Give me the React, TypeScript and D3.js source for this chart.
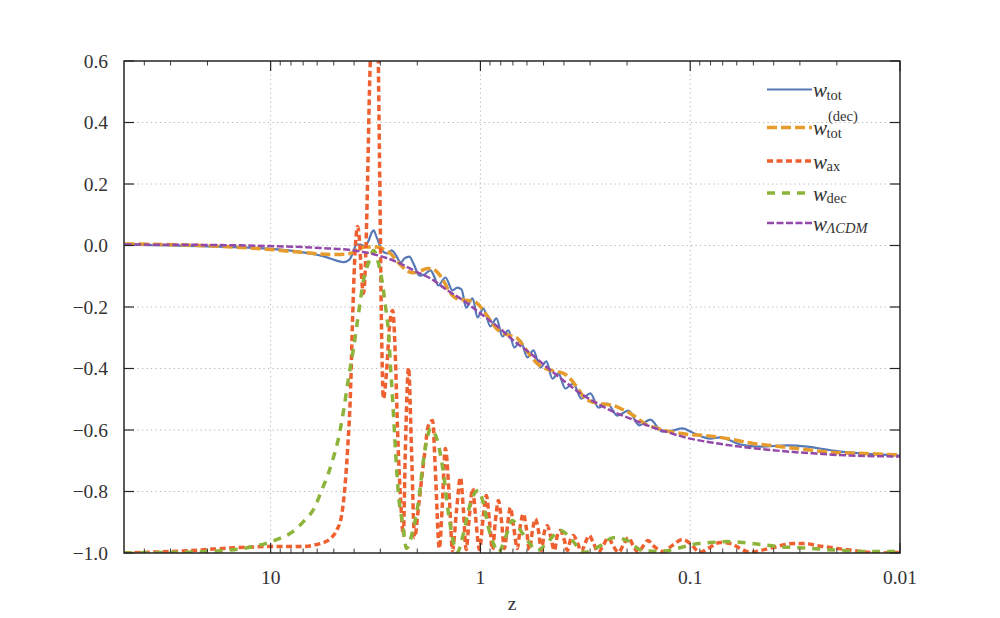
import React from "react";
import * as d3 from "d3";

// ---------- data ----------
const totZ = [49.6, 21.5, 10, 7.2, 5.53, 4.85, 4.49, 4.21, 4.02, 3.9, 3.73, 3.57, 3.41, 3.3, 3.23, 3.13, 2.99, 2.87, 2.77, 2.65, 2.54, 2.4, 2.3, 2.18, 2.085, 1.95, 1.85, 1.73, 1.66, 1.59, 1.468, 1.36, 1.29, 1.23, 1.17, 1.09, 1.033, 0.968, 0.896, 0.839, 0.785, 0.736, 0.689, 0.645, 0.597, 0.559, 0.518, 0.485, 0.454, 0.425, 0.394, 0.361, 0.33, 0.299, 0.274, 0.248, 0.223, 0.197, 0.175, 0.155, 0.136, 0.122, 0.109, 0.0978, 0.0803, 0.072, 0.0578, 0.0464, 0.0345, 0.0277, 0.0209, 0.0155, 0.01];
const totW = [0.003, -0.002, -0.011, -0.021, -0.036, -0.049, -0.054, -0.046, -0.016, 0.003, 0.003, -0.003, 0.016, 0.042, 0.049, 0.029, -0.006, -0.023, -0.026, -0.016, -0.029, -0.055, -0.042, -0.036, -0.059, -0.098, -0.094, -0.081, -0.101, -0.13, -0.104, -0.146, -0.137, -0.143, -0.202, -0.172, -0.234, -0.205, -0.263, -0.237, -0.296, -0.276, -0.332, -0.309, -0.364, -0.341, -0.397, -0.377, -0.433, -0.416, -0.465, -0.449, -0.498, -0.481, -0.527, -0.514, -0.553, -0.537, -0.585, -0.566, -0.605, -0.602, -0.595, -0.608, -0.628, -0.624, -0.647, -0.654, -0.65, -0.654, -0.667, -0.676, -0.683];

const totDecZ = [49.6, 21.5, 10, 7.2, 5.12, 4.39, 4.12, 3.81, 3.53, 3.09, 2.83, 2.68, 2.51, 2.33, 2.2, 2.085, 1.93, 1.79, 1.69, 1.6, 1.5, 1.42, 1.34, 1.245, 1.14, 1.068, 1.022, 0.968, 0.896, 0.839, 0.803, 0.752, 0.704, 0.666, 0.631, 0.578, 0.535, 0.49, 0.454, 0.43, 0.402, 0.373, 0.341, 0.323, 0.299, 0.268, 0.248, 0.233, 0.215, 0.193, 0.173, 0.16, 0.147, 0.1315, 0.118, 0.1, 0.0848, 0.072, 0.0597, 0.0501, 0.0416, 0.0345, 0.0268, 0.0209, 0.0155, 0.01];
const totDecW = [0.005, 0.0, -0.013, -0.022, -0.029, -0.028, -0.025, -0.01, -0.005, -0.005, -0.016, -0.026, -0.049, -0.072, -0.085, -0.089, -0.083, -0.075, -0.076, -0.088, -0.114, -0.146, -0.166, -0.176, -0.179, -0.182, -0.192, -0.211, -0.244, -0.27, -0.28, -0.289, -0.296, -0.302, -0.322, -0.358, -0.384, -0.4, -0.407, -0.41, -0.416, -0.433, -0.468, -0.491, -0.507, -0.514, -0.517, -0.52, -0.53, -0.546, -0.569, -0.585, -0.592, -0.602, -0.608, -0.615, -0.618, -0.624, -0.634, -0.644, -0.65, -0.657, -0.665, -0.673, -0.676, -0.681];

const axZ = [49.6, 24.0, 13.9, 10, 7.2, 5.78, 5.18, 4.85, 4.59, 4.44, 4.3, 4.16, 4.07, 3.98, 3.85, 3.77, 3.69, 3.61, 3.53, 3.45, 3.38, 3.3, 3.2, 3.09, 3.03, 2.96, 2.9, 2.8, 2.71, 2.62, 2.54, 2.48, 2.4, 2.33, 2.28, 2.2, 2.13, 2.06, 1.97, 1.85, 1.77, 1.69, 1.64, 1.57, 1.52, 1.47, 1.4, 1.36, 1.3, 1.245, 1.205, 1.17, 1.128, 1.09, 1.056, 1.011, 0.968, 0.937, 0.906, 0.876, 0.848, 0.821, 0.794, 0.769, 0.743, 0.72, 0.696, 0.666, 0.645, 0.624, 0.604, 0.584, 0.565, 0.547, 0.529, 0.512, 0.496, 0.48, 0.464, 0.444, 0.43, 0.416, 0.398, 0.385, 0.373, 0.361, 0.345, 0.33, 0.316, 0.303, 0.29, 0.274, 0.26, 0.246, 0.233, 0.22, 0.209, 0.197, 0.187, 0.177, 0.167, 0.159, 0.15, 0.134, 0.122, 0.109, 0.1, 0.0896, 0.0821, 0.072, 0.0645, 0.0578, 0.0518, 0.0464, 0.0402, 0.0323, 0.0283, 0.0248, 0.02, 0.0167, 0.0139, 0.0122, 0.01];
const axW = [-1.0, -0.992, -0.982, -0.979, -0.979, -0.969, -0.953, -0.927, -0.878, -0.797, -0.667, -0.472, -0.244, -0.055, 0.062, 0.016, -0.098, -0.156, -0.055, 0.211, 0.504, 0.732, 0.95, 0.732, 0.309, -0.276, -0.498, -0.407, -0.26, -0.211, -0.374, -0.611, -0.829, -0.943, -0.667, -0.397, -0.667, -0.95, -0.846, -0.683, -0.585, -0.569, -0.732, -0.985, -0.846, -0.66, -0.846, -0.992, -0.862, -0.754, -0.862, -0.989, -0.878, -0.79, -0.878, -0.989, -0.878, -0.813, -0.894, -0.989, -0.894, -0.829, -0.894, -0.985, -0.911, -0.852, -0.911, -0.985, -0.911, -0.872, -0.92, -0.989, -0.927, -0.889, -0.927, -0.992, -0.933, -0.911, -0.943, -0.992, -0.943, -0.927, -0.959, -0.992, -0.959, -0.943, -0.966, -0.995, -0.966, -0.943, -0.966, -0.998, -0.976, -0.95, -0.976, -0.998, -0.976, -0.95, -0.976, -0.998, -0.976, -0.959, -0.976, -0.995, -0.976, -0.956, -0.969, -0.998, -0.985, -0.966, -0.969, -0.985, -0.998, -0.992, -0.982, -0.969, -0.969, -0.976, -0.985, -0.992, -0.998, -1.0, -0.998];

const decZ = [49.6, 19.9, 11.5, 9.57, 7.94, 6.89, 6.17, 5.72, 5.35, 5.07, 4.8, 4.49, 4.25, 4.02, 3.81, 3.61, 3.41, 3.23, 3.06, 2.93, 2.83, 2.74, 2.68, 2.62, 2.54, 2.46, 2.35, 2.25, 2.11, 1.97, 1.87, 1.79, 1.73, 1.66, 1.59, 1.5, 1.42, 1.34, 1.29, 1.205, 1.14, 1.08, 1.022, 0.968, 0.916, 0.867, 0.821, 0.76, 0.704, 0.659, 0.597, 0.535, 0.48, 0.416, 0.365, 0.323, 0.268, 0.233, 0.2, 0.169, 0.139, 0.115, 0.0968, 0.0803, 0.0666, 0.0559, 0.0464, 0.0385, 0.0323, 0.0268, 0.0223, 0.0187, 0.0155, 0.0129, 0.01];
const decW = [-1.0, -0.995, -0.976, -0.959, -0.933, -0.894, -0.852, -0.797, -0.748, -0.699, -0.641, -0.537, -0.429, -0.332, -0.221, -0.114, -0.055, -0.016, -0.059, -0.124, -0.202, -0.286, -0.397, -0.504, -0.667, -0.807, -0.904, -0.985, -0.933, -0.829, -0.699, -0.624, -0.595, -0.608, -0.644, -0.741, -0.872, -0.969, -0.998, -0.937, -0.862, -0.813, -0.797, -0.839, -0.917, -0.969, -0.998, -0.95, -0.894, -0.917, -0.959, -0.992, -0.966, -0.927, -0.959, -0.998, -0.976, -0.95, -0.959, -0.992, -0.995, -0.985, -0.972, -0.966, -0.963, -0.966, -0.972, -0.979, -0.982, -0.985, -0.989, -0.992, -0.995, -0.995, -0.995];

const lcdmZ = [49.6, 21.5, 10, 5.78, 4.02, 3.2, 2.4, 2.085, 1.73, 1.435, 1.205, 1.0, 0.83, 0.696, 0.578, 0.48, 0.402, 0.334, 0.277, 0.233, 0.193, 0.16, 0.127, 0.1, 0.0736, 0.0535, 0.0373, 0.026, 0.0173, 0.01];
const lcdmW = [0.003, 0.002, -0.002, -0.008, -0.016, -0.029, -0.059, -0.081, -0.107, -0.146, -0.179, -0.221, -0.263, -0.309, -0.351, -0.397, -0.439, -0.481, -0.514, -0.54, -0.563, -0.585, -0.608, -0.628, -0.644, -0.657, -0.668, -0.676, -0.683, -0.686];

const xTickValues = [10, 1, 0.1, 0.01];
const xTickLabels = ["10", "1", "0.1", "0.01"];
const yTickValues = [-1.0, -0.8, -0.6, -0.4, -0.2, 0.0, 0.2, 0.4, 0.6];
const yTickLabels = ["\u22121.0", "\u22120.8", "\u22120.6", "\u22120.4", "\u22120.2", "0.0", "0.2", "0.4", "0.6"];
const xLabel = "z";

const FONT = "Liberation Serif";

const series = [
  { key: "tot", zs: totZ, ws: totW, color: "#5679b8", width: 2.2, dash: "none", sub: "tot", sup: "" },
  { key: "totdec", zs: totDecZ, ws: totDecW, color: "#e69c2c", width: 3.5, dash: "10,4", sub: "tot", sup: "(dec)" },
  { key: "ax", zs: axZ, ws: axW, color: "#ef6031", width: 3.5, dash: "6,3.5", sub: "ax", sup: "" },
  { key: "dec", zs: decZ, ws: decW, color: "#8db43a", width: 3.5, dash: "8,7", sub: "dec", sup: "" },
  { key: "lcdm", zs: lcdmZ, ws: lcdmW, color: "#9349a8", width: 2.5, dash: "7,2.5", sub: "\u039BCDM", sup: "" },
];

const legendY = [89.5, 127.5, 161, 193, 223];

export default function App() {
  const L = 124, R = 900, T = 61, B = 553;
  const x = d3.scaleLog().domain([50, 0.01]).range([L, R]);
  const y = d3.scaleLinear().domain([-1, 0.6]).range([B, T]);

  const pathFor = (zs: number[], ws: number[]) => {
    const pts: [number, number][] = zs.map((z, i) => [z, ws[i]]).filter((p) => p[1] !== undefined) as [number, number][];
    return d3
      .line<[number, number]>()
      .x((d) => x(d[0]))
      .y((d) => y(d[1]))
      .curve(d3.curveMonotoneX)(pts) || "";
  };

  const minor: number[] = [];
  [0.01, 0.1, 1, 10].forEach((dec) => {
    for (let m = 2; m <= 9; m++) {
      const v = m * dec;
      if (v < 49.9) minor.push(v);
    }
  });

  const gridColor = "#b5b5b5";
  const axisColor = "#262626";

  return (
    <svg width={1000} height={618} style={{ position: "absolute", left: 0, top: 0, background: "#fff" }}>
      <defs>
        <clipPath id="plotclip">
          <rect x={L} y={T} width={R - L} height={B - T} />
        </clipPath>
      </defs>
      <rect x={0} y={0} width={1000} height={618} fill="#fff" />
      <g stroke={gridColor} strokeWidth={1} strokeDasharray="1.2,3.3">
        {yTickValues.filter((v) => v > -1 && v < 0.6).map((v) => (
          <line key={"gy" + v} x1={L} x2={R} y1={y(v)} y2={y(v)} />
        ))}
        {xTickValues.filter((v) => v > 0.01).map((v) => (
          <line key={"gx" + v} x1={x(v)} x2={x(v)} y1={T} y2={B} />
        ))}
      </g>
      <g clipPath="url(#plotclip)" fill="none">
        {series.map((s) => (
          <path
            key={s.key}
            d={pathFor(s.zs, s.ws)}
            stroke={s.color}
            strokeWidth={s.width}
            strokeDasharray={s.dash}
            strokeLinejoin="round"
          />
        ))}
      </g>
      <g stroke={axisColor} strokeWidth={1.2}>
        {xTickValues.map((v) => (
          <g key={"xt" + v}>
            <line x1={x(v)} x2={x(v)} y1={B} y2={B - 10} />
            <line x1={x(v)} x2={x(v)} y1={T} y2={T + 10} />
          </g>
        ))}
        {minor.map((v) => (
          <g key={"mt" + v}>
            <line x1={x(v)} x2={x(v)} y1={B} y2={B - 4.5} strokeWidth={0.9} />
            <line x1={x(v)} x2={x(v)} y1={T} y2={T + 4.5} strokeWidth={0.9} />
          </g>
        ))}
        {yTickValues.map((v) => (
          <g key={"yt" + v}>
            <line x1={L} x2={L + 10} y1={y(v)} y2={y(v)} />
            <line x1={R} x2={R - 10} y1={y(v)} y2={y(v)} />
          </g>
        ))}
      </g>
      <rect x={L} y={T} width={R - L} height={B - T} fill="none" stroke={axisColor} strokeWidth={1.5} />
      <g fontFamily={FONT} fontSize={19.5} fill="#333">
        {yTickValues.map((v, i) => (
          <text key={"yl" + v} x={108} y={y(v) + 6.5} textAnchor="end">
            {yTickLabels[i]}
          </text>
        ))}
        {xTickValues.map((v, i) => (
          <text key={"xl" + v} x={x(v)} y={584} textAnchor="middle">
            {xTickLabels[i]}
          </text>
        ))}
        <text x={(L + R) / 2} y={610} textAnchor="middle">
          {xLabel}
        </text>
      </g>
      <g fontFamily={FONT} fill="#333">
        {series.map((s, i) => {
          const ly = legendY[i];
          return (
            <g key={"lg" + s.key}>
              <line x1={767} x2={812} y1={ly} y2={ly} stroke={s.color} strokeWidth={s.width} strokeDasharray={s.dash} />
              <text x={813} y={ly + 7.5} fontSize={21} fontStyle="italic">
                w
              </text>
              <text
                x={826.5}
                y={ly + 10}
                fontSize={14.5}
                fontStyle={s.key === "lcdm" ? "italic" : "normal"}
              >
                {s.sub}
              </text>
              {s.sup ? (
                <text x={828} y={ly - 6.5} fontSize={14.5}>
                  {s.sup}
                </text>
              ) : null}
            </g>
          );
        })}
      </g>
    </svg>
  );
}
